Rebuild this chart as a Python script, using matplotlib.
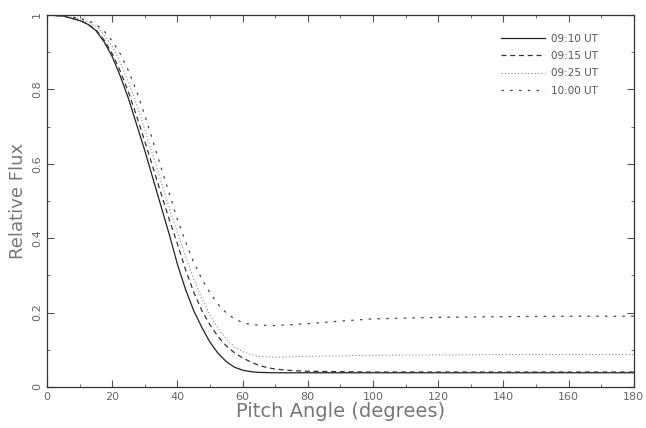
import matplotlib
matplotlib.use("Agg")
import matplotlib.pyplot as plt
from matplotlib.ticker import MultipleLocator

x_0910 = [0, 5, 10, 12.5, 15, 17.5, 20, 22.5, 25, 27.5, 30, 32.5, 35, 37.5, 40, 42.5, 45, 47.5, 50,
          52.5, 55, 57.5, 60, 62.5, 65, 70, 80, 100, 120, 140, 160, 180]
y_0910 = [1.0, 0.997, 0.985, 0.975, 0.958, 0.928, 0.888, 0.835, 0.775, 0.705, 0.635, 0.56, 0.485, 0.41, 0.33,
          0.262, 0.205, 0.16, 0.12, 0.09, 0.068, 0.053, 0.045, 0.041, 0.039, 0.038, 0.038, 0.038, 0.038,
          0.038, 0.038, 0.038]

x_0915 = [0, 5, 10, 12.5, 15, 17.5, 20, 22.5, 25, 27.5, 30, 32.5, 35, 37.5, 40, 42.5, 45, 47.5, 50,
          52.5, 55, 57.5, 60, 62.5, 65, 67.5, 70, 75, 80, 90, 100, 120, 140, 160, 180]
y_0915 = [1.0, 0.997, 0.986, 0.976, 0.96, 0.933, 0.896, 0.848, 0.792, 0.728, 0.66, 0.59, 0.52, 0.45, 0.385,
          0.315, 0.255, 0.205, 0.167, 0.135, 0.11, 0.092, 0.078, 0.067, 0.058, 0.052, 0.048, 0.044, 0.042,
          0.041, 0.04, 0.04, 0.04, 0.04, 0.04]

x_0925 = [0, 5, 10, 12.5, 15, 17.5, 20, 22.5, 25, 27.5, 30, 32.5, 35, 37.5, 40, 42.5, 45, 47.5, 50,
          52.5, 55, 57.5, 60, 62.5, 65, 70, 80, 100, 120, 140, 160, 180]
y_0925 = [1.0, 0.998, 0.99, 0.982, 0.97, 0.948, 0.915, 0.872, 0.82, 0.76, 0.692, 0.622, 0.552, 0.482, 0.415,
          0.35, 0.29, 0.238, 0.193, 0.157, 0.128, 0.108, 0.095, 0.087, 0.082, 0.08, 0.082, 0.085, 0.086,
          0.087, 0.087, 0.087]

x_1000 = [0, 5, 10, 12.5, 15, 17.5, 20, 22.5, 25, 27.5, 30, 32.5, 35, 37.5, 40, 42.5, 45, 47.5, 50,
          52.5, 55, 57.5, 60, 62.5, 65, 70, 80, 90, 100, 120, 140, 160, 180]
y_1000 = [1.0, 0.998, 0.991, 0.985, 0.975, 0.957, 0.93, 0.895, 0.85, 0.795, 0.73, 0.66, 0.59, 0.52, 0.45,
          0.39, 0.335, 0.29, 0.253, 0.222, 0.199, 0.183, 0.173, 0.168, 0.166, 0.165, 0.17, 0.177, 0.183,
          0.187, 0.189, 0.19, 0.19]

labels = ["09:10 UT", "09:15 UT", "09:25 UT", "10:00 UT"]

fig = plt.figure(figsize=(6.46, 4.28), dpi=100)
ax = fig.add_axes([0.0728, 0.096, 0.9082, 0.869])

ax.plot(x_0910, y_0910, color="#222222", lw=0.9, ls="-", label=labels[0])
ax.plot(x_0915, y_0915, color="#333333", lw=0.9, ls=(0, (4, 3)), label=labels[1])
ax.plot(x_0925, y_0925, color="#888888", lw=0.8, ls=(0, (1, 2)), label=labels[2])
ax.plot(x_1000, y_1000, color="#444444", lw=0.9, ls=(0, (2, 5)), label=labels[3])

ax.set_xlim(0, 180)
ax.set_ylim(0, 1)
ax.xaxis.set_major_locator(MultipleLocator(20))
ax.xaxis.set_minor_locator(MultipleLocator(10))
ax.yaxis.set_minor_locator(MultipleLocator(0.1))
ax.set_yticks([0, 0.2, 0.4, 0.6, 0.8, 1.0])
ax.set_yticklabels(["0", "0.2", "0.4", "0.6", "0.8", "1"])
ax.tick_params(which="both", direction="in", top=True, right=True, colors="#555555",
               labelsize=8, labelcolor="#666666")
ax.tick_params(which="major", length=5, width=0.8)
ax.tick_params(which="minor", length=2.5, width=0.6)
for lab in ax.get_yticklabels():
    lab.set_rotation(90)
    lab.set_va("center")
for s in ax.spines.values():
    s.set_color("#333333")
    s.set_linewidth(0.9)

ax.set_xlabel("Pitch Angle (degrees)", fontsize=14, color="#777777", labelpad=0)
ax.set_ylabel("Relative Flux", fontsize=13, color="#777777", labelpad=4)

leg = ax.legend(loc="upper right", bbox_to_anchor=(0.955, 0.975), frameon=False, fontsize=7.5,
                handlelength=4.2, handletextpad=0.6, labelspacing=0.7)
for t in leg.get_texts():
    t.set_color("#555555")

fig.savefig("out.png", dpi=100)
